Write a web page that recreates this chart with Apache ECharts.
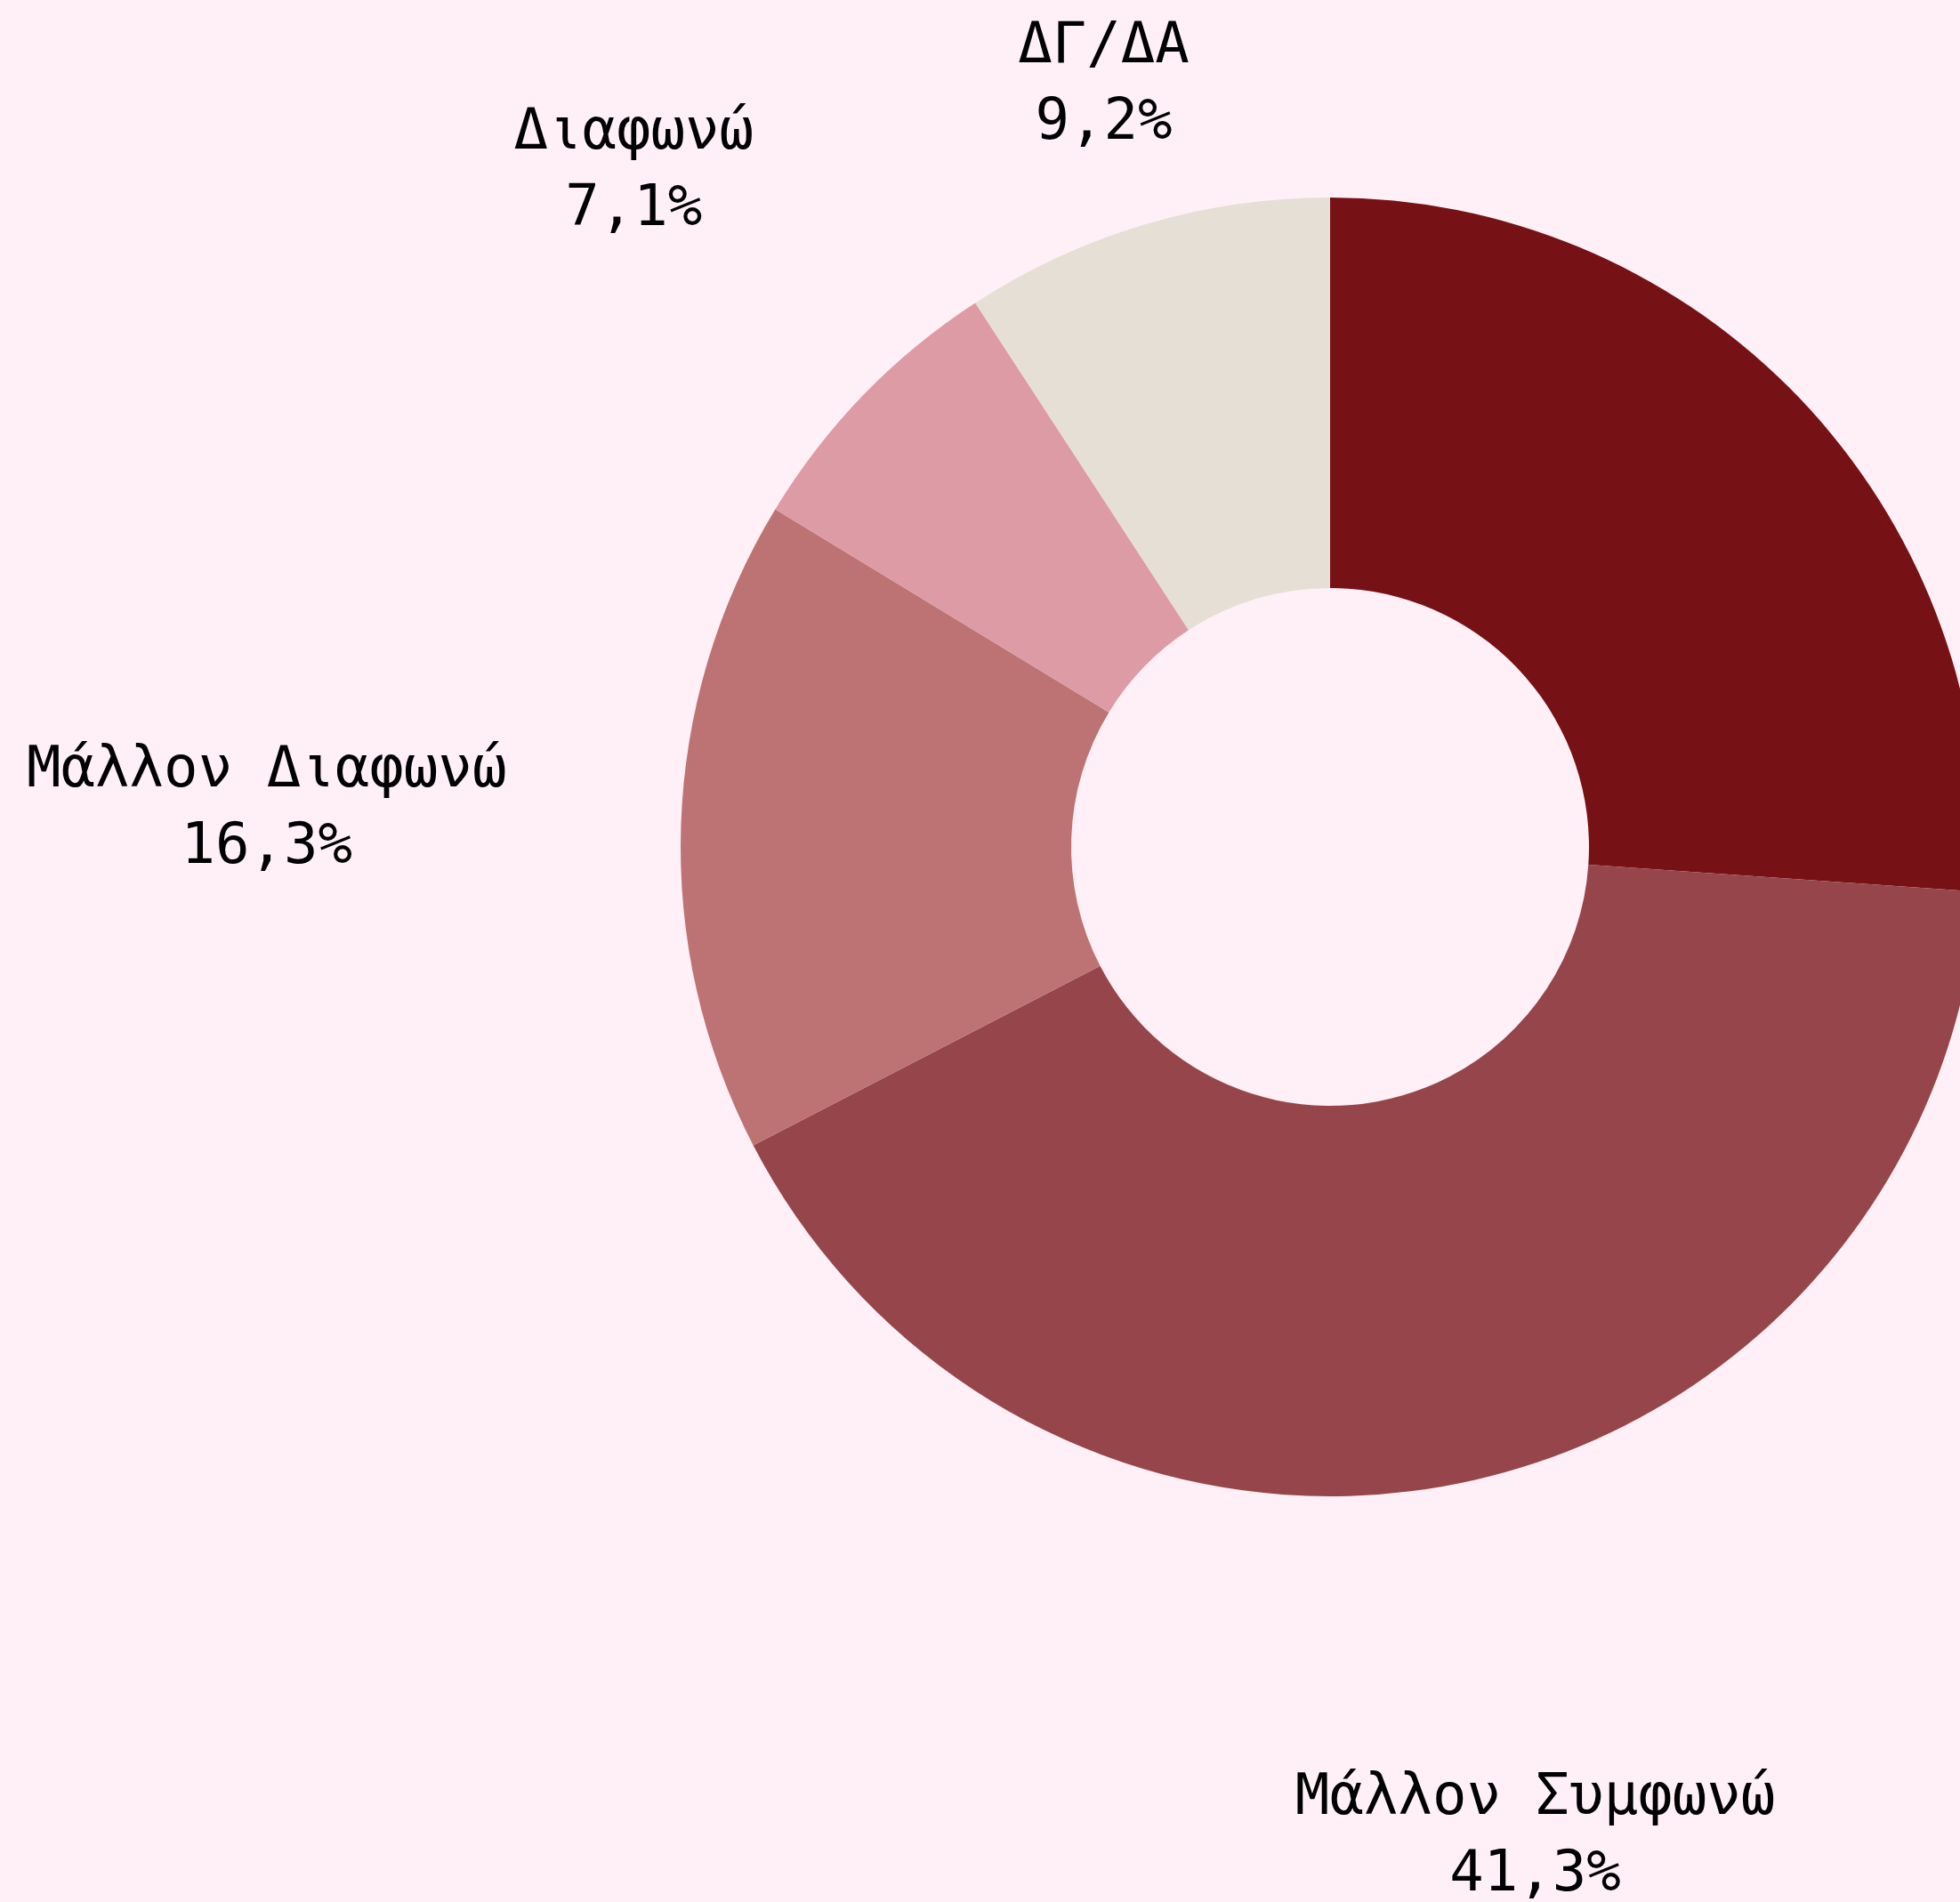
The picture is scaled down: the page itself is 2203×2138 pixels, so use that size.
<!DOCTYPE html>
<html>
<head>
<meta charset="utf-8">
<title>Donut</title>
<script src="https://cdn.jsdelivr.net/npm/echarts@6/dist/echarts.min.js"></script>
<style>
  html, body { margin: 0; padding: 0; background: #fff0f7; }
  #chart { width: 2203px; height: 2138px; }
</style>
</head>
<body>
<div id="chart"></div>
<script>
// Answer categories, clockwise from 12 o'clock
const categories = ['Συμφωνώ', 'Μάλλον Συμφωνώ', 'Μάλλον Διαφωνώ', 'Διαφωνώ', 'ΔΓ/ΔΑ'];
// Share of respondents (%)
const shares = [26.1, 41.3, 16.3, 7.1, 9.2];

// Styling
const sliceColors = ['#761116', '#96464b', '#bd7373', '#dd9ba5', '#e6dfd5'];
const labelRadius = [1200, 1137, 1196, 1090, 893];
const CENTER = [1495, 952];
const RADII = [291, 730];

const total = shares.reduce((a, b) => a + b, 0);
const midAngles = [];
let acc = 0;
shares.forEach(v => {
  midAngles.push((acc + v / 2) / total * 2 * Math.PI);
  acc += v;
});

const fmt = v => v.toFixed(1).replace('.', ',') + '%';

const chart = echarts.init(document.getElementById('chart'), null, { renderer: 'canvas' });
chart.setOption({
  backgroundColor: '#fff0f7',
  animation: false,
  series: [{
    type: 'pie',
    center: CENTER,
    radius: RADII,
    startAngle: 90,
    clockwise: true,
    avoidLabelOverlap: false,
    itemStyle: { borderWidth: 0 },
    emphasis: { disabled: true },
    label: {
      show: true,
      position: 'inside',
      color: '#000000',
      fontFamily: '"DejaVu Sans Mono", "Liberation Mono", monospace',
      fontSize: 64,
      lineHeight: 86,
      align: 'center',
      verticalAlign: 'middle',
      formatter: p => p.name + '\n' + fmt(p.value)
    },
    labelLine: { show: false },
    labelLayout: params => {
      const i = params.dataIndex;
      const a = midAngles[i];
      const r = labelRadius[i];
      return {
        x: CENTER[0] + r * Math.sin(a),
        y: CENTER[1] - r * Math.cos(a),
        align: 'center',
        verticalAlign: 'middle'
      };
    },
    data: categories.map((c, i) => ({
      name: c,
      value: shares[i],
      itemStyle: { color: sliceColors[i] }
    }))
  }]
});
</script>
</body>
</html>
